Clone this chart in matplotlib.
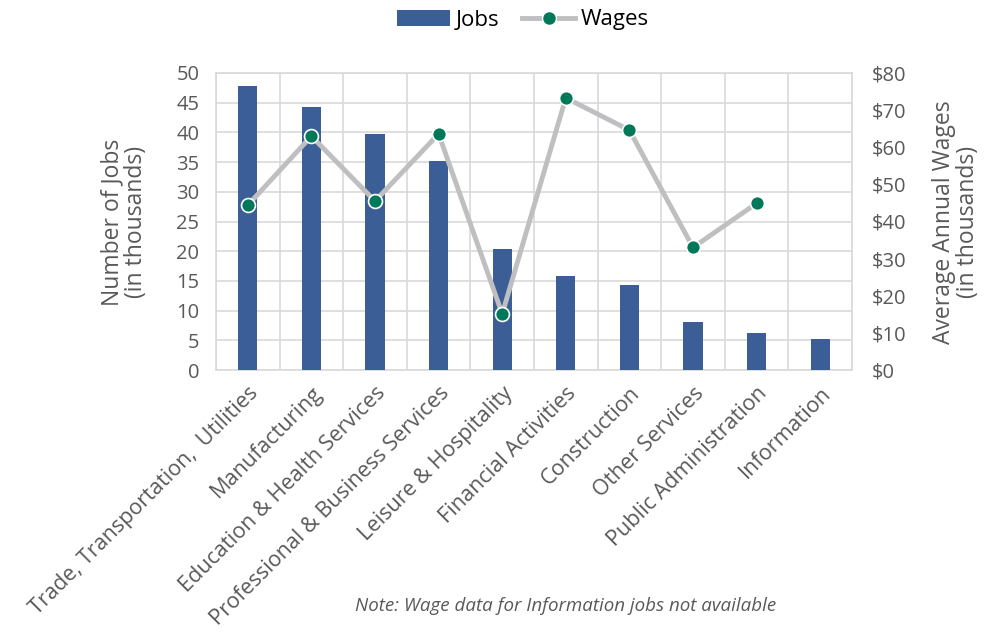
import matplotlib
matplotlib.use("Agg")
import matplotlib.pyplot as plt
import numpy as np
from matplotlib.lines import Line2D
from matplotlib.patches import Patch

categories = ["Trade, Transportation,  Utilities", "Manufacturing", "Education & Health Services",
              "Professional & Business Services", "Leisure & Hospitality", "Financial Activities",
              "Construction", "Other Services", "Public Administration", "Information"]
jobs = [47.8, 44.2, 39.7, 35.2, 20.4, 15.8, 14.3, 8.1, 6.2, 5.2]
wages = [44.4, 63.0, 45.5, 63.6, 15.1, 73.3, 64.6, 33.0, 44.9, np.nan]
left_ticks = [0, 5, 10, 15, 20, 25, 30, 35, 40, 45, 50]
right_ticks = [0, 10, 20, 30, 40, 50, 60, 70, 80]

plt.rcParams['font.family'] = ['Open Sans', 'DejaVu Sans']
txt = '#595959'
bar_c = '#3B5E96'
line_c = '#BFBFC1'
mk_c = '#00785A'

fig = plt.figure(figsize=(9.89, 6.34), dpi=100)
ax = fig.add_axes([216/989, 1-370/634, (852-216)/989, (370-73)/634])
x = np.arange(len(categories))
ax.bar(x, jobs, width=0.3, color=bar_c, zorder=3)
ax.set_xlim(-0.5, len(categories)-0.5)
ax.set_ylim(0, 50)
ax.set_yticks(left_ticks)
ax.set_yticklabels([str(t) for t in left_ticks], fontsize=14.5, color=txt)
ax.set_xticks(x)
ax.set_xticklabels(categories, rotation=45, ha='right', rotation_mode='anchor', fontsize=15.6, color=txt)
ax.set_xticks(np.arange(-0.5, len(categories)), minor=True)
ax.grid(False)
ax.grid(True, which='minor', axis='x', color='#D9D9D9', lw=1.2, zorder=0)
ax.grid(True, which='major', axis='y', color='#D9D9D9', lw=1.2, zorder=0)
ax.tick_params(axis='y', which='both', length=0, pad=12)
ax.tick_params(axis='x', which='both', length=0, pad=9)
for s in ax.spines.values():
    s.set_color('#D9D9D9')
    s.set_linewidth(1.2)

ax2 = ax.twinx()
ax2.plot(x, wages, color=line_c, lw=3.5, marker='o', markersize=10, markerfacecolor=mk_c,
         markeredgecolor='white', markeredgewidth=1.2, zorder=4)
ax2.set_ylim(0, 80)
ax2.set_yticks(right_ticks)
ax2.set_yticklabels([f"${t}" for t in right_ticks], fontsize=14.5, color=txt)
ax2.tick_params(axis='y', length=0, pad=14)
for s in ax2.spines.values():
    s.set_visible(False)

fig.text(124/989, 1-222/634, "Number of Jobs\n(in thousands)", rotation=90, ha='center', va='center',
         fontsize=16.5, color=txt, linespacing=1.0, multialignment='center')
fig.text(956/989, 1-222/634, "Average Annual Wages\n(in thousands)", rotation=90, ha='center', va='center',
         fontsize=16.5, color=txt, linespacing=1.0, multialignment='center')

handles = [Patch(facecolor=bar_c, edgecolor='none'),
           Line2D([0], [0], color=line_c, lw=3.5, marker='o', markersize=10,
                  markerfacecolor=mk_c, markeredgecolor='white')]
fig.legend(handles, ["Jobs", "Wages"], loc='center', bbox_to_anchor=(523/989, 1-20/634), ncol=2,
           frameon=False, fontsize=16, handlelength=2.4, columnspacing=1.0, handletextpad=0.25)

fig.text(566/989, 1-606/634, "Note: Wage data for Information jobs not available", ha='center', va='center',
         fontsize=13.5, style='italic', color=txt)

fig.savefig("out.png", dpi=100)
